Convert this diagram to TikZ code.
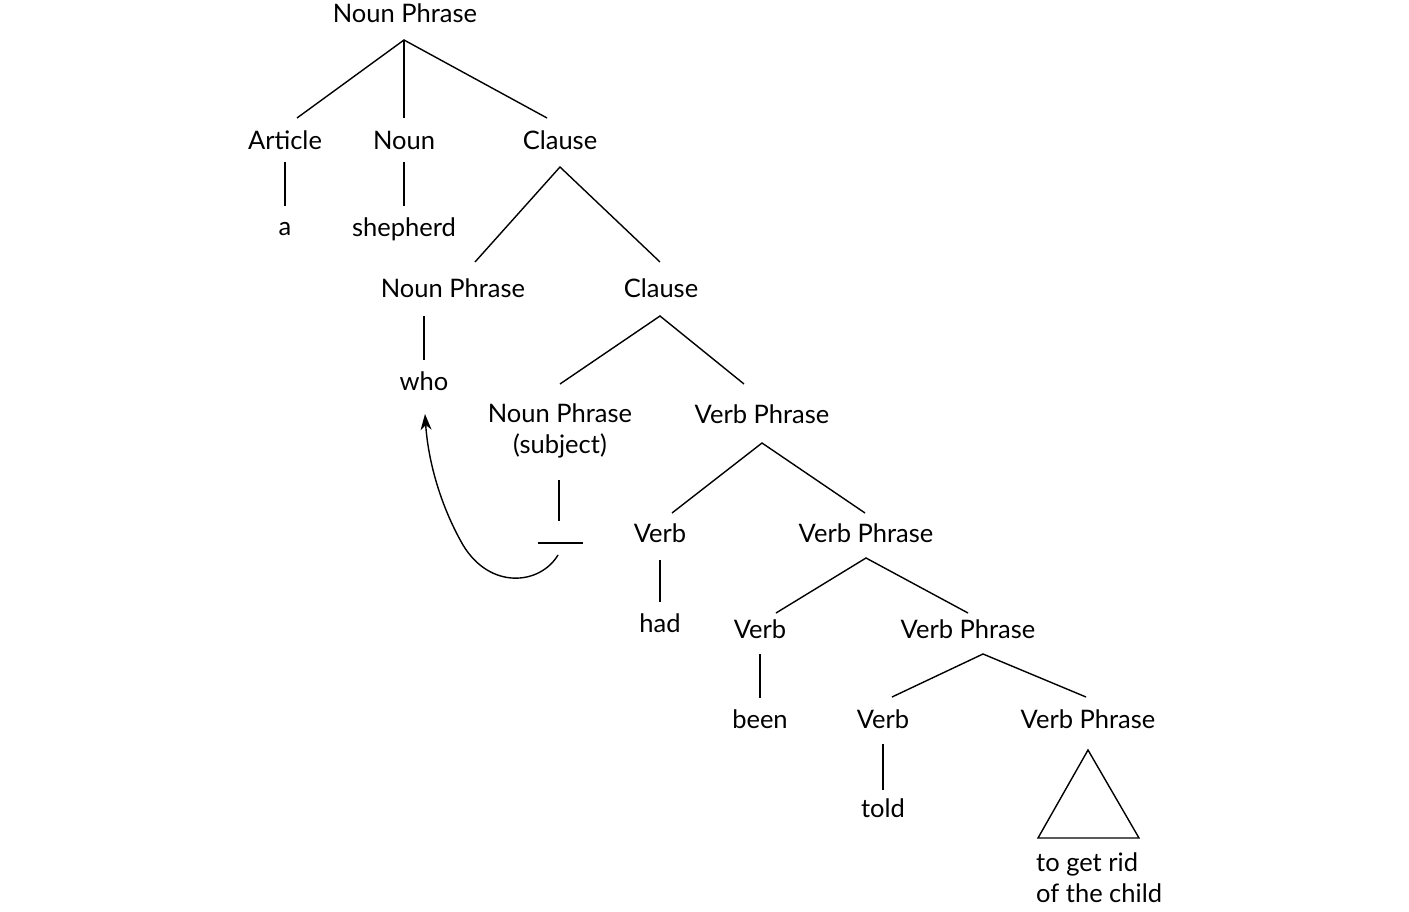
\documentclass[tikz,border=0pt]{standalone}
\usepackage{fontspec}
\setmainfont{Lato}
\usetikzlibrary{arrows.meta}
\begin{document}
\begin{tikzpicture}[x=1pt,y=-1pt,
  lbl/.style={font=\fontsize{25.5}{31}\selectfont, inner sep=0pt, anchor=center},
  edge/.style={line width=1.4pt},
  mv/.style={line width=1.4pt, -{Stealth[length=16pt,width=11pt,inset=5pt]}}]
\useasboundingbox (0,0) rectangle (1409,912);
% nodes
\node[lbl] (np0) at (405,13) {Noun Phrase};
\node[lbl] (art) at (285,140) {Article};
\node[lbl] (noun) at (404,140) {Noun};
\node[lbl] (cl1) at (560,140) {Clause};
\node[lbl] (a) at (285,229) {a};
\node[lbl] (shep) at (404,229) {shepherd};
\node[lbl] (np2) at (453,288) {Noun Phrase};
\node[lbl] (cl2) at (661,288) {Clause};
\node[lbl] (who) at (424,381) {who};
\node[lbl, align=center] (np3) at (560,431) {Noun Phrase\\(subject)};
\node[lbl] (vp1) at (762,414) {Verb Phrase};
\node[lbl] (v1) at (660,533) {Verb};
\node[lbl] (vp2) at (866,533) {Verb Phrase};
\node[lbl] (had) at (660,623) {had};
\node[lbl] (v2) at (760,629) {Verb};
\node[lbl] (vp3) at (968,629) {Verb Phrase};
\node[lbl] (been) at (760,719) {been};
\node[lbl] (v3) at (883,719) {Verb};
\node[lbl] (vp4) at (1088,719) {Verb Phrase};
\node[lbl] (told) at (883,808) {told};
\node[lbl, align=left, anchor=north west] (rest) at (1036,853) {to get rid\\of the child};
% coordinates for branch ends
\coordinate (np0b) at (404,40);
\coordinate (artt) at (297,118);
\coordinate (nount) at (404,118);
\coordinate (cl1t) at (547,118);
\coordinate (artb) at (285,162);
\coordinate (at) at (285,206);
\coordinate (nounb) at (404,162);
\coordinate (shept) at (404,206);
\coordinate (cl1b) at (560,167);
\coordinate (np2t) at (475,262);
\coordinate (cl2t) at (660,262);
\coordinate (np2b) at (424,316);
\coordinate (whot) at (424,360);
\coordinate (whob) at (425,414);
\coordinate (cl2b) at (660,316);
\coordinate (np3t) at (560,384);
\coordinate (vp1t) at (744,384);
\coordinate (np3b) at (559,480);
\coordinate (gapt) at (559,521);
\coordinate (gapl) at (538,543);
\coordinate (gapr) at (583,543);
\coordinate (gapb) at (558,555);
\coordinate (vp1b) at (762,443);
\coordinate (v1t) at (672,513);
\coordinate (vp2t) at (865,513);
\coordinate (v1b) at (660,560);
\coordinate (hadt) at (660,602);
\coordinate (vp2b) at (866,558);
\coordinate (v2t) at (776,613);
\coordinate (vp3t) at (968,613);
\coordinate (v2b) at (760,654);
\coordinate (beent) at (760,698);
\coordinate (vp3b) at (983,654);
\coordinate (v3t) at (892,697);
\coordinate (vp4t) at (1086,697);
\coordinate (v3b) at (883,744);
\coordinate (toldt) at (883,790);
\coordinate (tria) at (1088,750);
\coordinate (tril) at (1038,838);
\coordinate (trir) at (1139,838);
% branches
\draw[edge] (artt) -- (np0b) -- (cl1t);
\draw[edge] (np0b) -- (nount);
\draw[edge] (artb) -- (at);
\draw[edge] (nounb) -- (shept);
\draw[edge] (np2t) -- (cl1b) -- (cl2t);
\draw[edge] (np2b) -- (whot);
\draw[edge] (np3t) -- (cl2b) -- (vp1t);
\draw[edge] (np3b) -- (gapt);
\draw[edge] (gapl) -- (gapr);
\draw[edge] (v1t) -- (vp1b) -- (vp2t);
\draw[edge] (v1b) -- (hadt);
\draw[edge] (v2t) -- (vp2b) -- (vp3t);
\draw[edge] (v2b) -- (beent);
\draw[edge] (v3t) -- (vp3b) -- (vp4t);
\draw[edge] (v3b) -- (toldt);
\draw[edge] (tria) -- (tril) -- (trir) -- cycle;
% movement arrow
\draw[mv] (gapb) .. controls (540,585) and (490,590) .. (463,545)
  .. controls (440,505) and (428,460) .. (whob);
\end{tikzpicture}
\end{document}
